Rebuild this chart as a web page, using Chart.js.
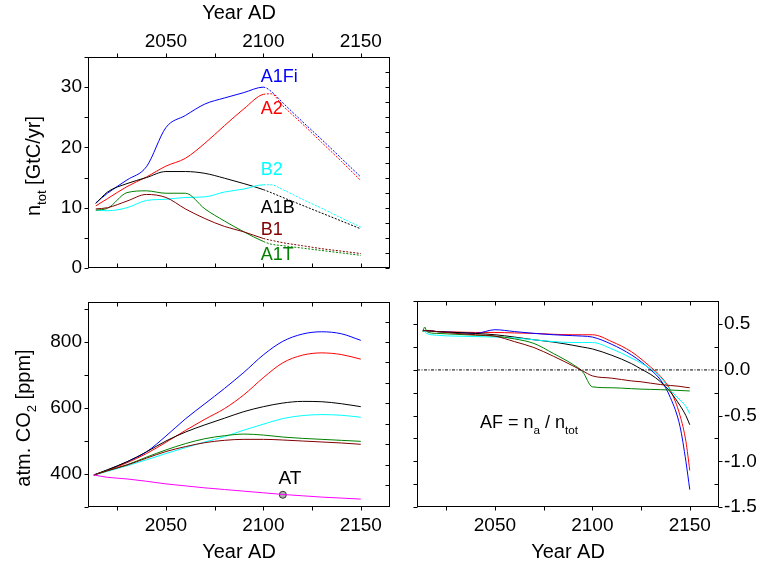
<!DOCTYPE html>
<html>
<head>
<meta charset="utf-8">
<script src="https://cdn.jsdelivr.net/npm/chart.js@4.4.0/dist/chart.umd.min.js"></script>
<style>
  body { margin: 0; background: #fff; }
  #wrap { position: relative; width: 759px; height: 569px; }
  canvas { position: absolute; }
</style>
</head>
<body>
<div id="wrap">
  <canvas id="cEmis" width="400" height="290" style="left:0;top:0"></canvas>
  <canvas id="cCo2" width="400" height="284" style="left:0;top:285px"></canvas>
  <canvas id="cAf" width="379" height="284" style="left:380px;top:285px"></canvas>
</div>
<script>
// emissions n_tot [GtC/yr]
const emisYears = [2014, 2020, 2030, 2040, 2050, 2060, 2070, 2080, 2090, 2100, 2104, 2110, 2120, 2130, 2140, 2150];
const emisA1Fi = [10.8, 12.4, 14.6, 16.8, 23.3, 25.3, 27.2, 28.2, 29.1, 30.0, 29.3, 27.4, 24.3, 21.3, 18.2, 15.1];
const emisA2   = [10.3, 11.5, 13.5, 15.1, 16.9, 18.2, 20.7, 23.6, 26.4, 28.8, 28.9, 26.9, 23.9, 20.8, 17.7, 14.5];
const emisA1B  = [10.7, 12.6, 14.0, 15.0, 16.0, 16.0, 15.7, 14.9, 14.0, 13.0, 12.5, 11.7, 10.4, 9.1, 7.8, 6.5];
const emisB2   = [9.6, 9.5, 10.0, 11.2, 11.4, 11.7, 11.8, 12.6, 13.1, 13.8, 13.8, 13.0, 11.4, 9.9, 8.3, 6.8];
const emisA1T  = [9.6, 9.9, 12.5, 12.8, 12.4, 12.4, 9.8, 7.8, 6.0, 4.4, 3.95, 3.7, 3.3, 2.9, 2.5, 2.1];
const emisB1   = [9.8, 10.0, 11.1, 12.2, 11.7, 9.8, 8.2, 6.9, 6.0, 4.9, 4.6, 4.2, 3.7, 3.2, 2.8, 2.4];

// atm. CO2 [ppm]
const co2Years = [2013, 2020, 2030, 2040, 2050, 2060, 2070, 2080, 2090, 2100, 2110, 2120, 2130, 2140, 2150];
const co2A1Fi = [397, 412, 437, 467, 515, 567, 613, 659, 708, 761, 802, 824, 831, 825, 805];
const co2A2   = [397, 411, 434, 462, 496, 532, 566, 598, 640, 692, 737, 760, 767, 762, 748];
const co2A1B  = [397, 413, 437, 467, 500, 527, 549, 569, 589, 604, 615, 620, 619, 613, 604];
const co2B2   = [397, 408, 425, 443, 462, 480, 497, 513, 533, 551, 568, 577, 580, 578, 572];
const co2A1T  = [397, 410, 428, 451, 473, 492, 507, 516, 521, 518, 512, 508, 505, 502, 499];
const co2B1   = [397, 410, 427, 448, 468, 483, 495, 502, 505, 505, 503, 500, 497, 494, 490];
const co2AT   = [397, 390, 385, 378, 370, 364, 358, 353, 348, 343, 338, 334, 330, 327, 324];
const atMarkYear = 2110;
const atMarkValue = 337;

// airborne fraction AF
const afYears = [2013, 2014, 2015, 2020, 2030, 2040, 2050, 2060, 2070, 2080, 2090, 2095, 2100, 2110, 2120, 2125, 2130, 2135, 2140, 2145, 2148, 2150];
const afA1Fi = [0.43, 0.43, 0.43, 0.42, 0.41, 0.40, 0.44, 0.42, 0.40, 0.385, 0.375, 0.37, 0.36, 0.28, 0.165, 0.09, 0.0, -0.11, -0.30, -0.62, -1.0, -1.31];
const afA2   = [0.43, 0.43, 0.43, 0.42, 0.415, 0.41, 0.41, 0.405, 0.40, 0.39, 0.385, 0.385, 0.385, 0.31, 0.20, 0.12, 0.03, -0.07, -0.22, -0.50, -0.78, -1.10];
const afA1B  = [0.43, 0.43, 0.43, 0.42, 0.41, 0.40, 0.385, 0.36, 0.33, 0.305, 0.27, 0.25, 0.23, 0.16, 0.07, 0.01, -0.05, -0.13, -0.24, -0.39, -0.50, -0.60];
const afB2   = [0.43, 0.42, 0.40, 0.38, 0.37, 0.365, 0.36, 0.35, 0.33, 0.31, 0.30, 0.30, 0.30, 0.23, 0.13, 0.075, 0.01, -0.08, -0.22, -0.33, -0.40, -0.48];
const afA1T  = [0.42, 0.47, 0.42, 0.40, 0.39, 0.38, 0.37, 0.34, 0.29, 0.18, 0.06, -0.02, -0.185, -0.195, -0.205, -0.21, -0.213, -0.216, -0.22, -0.225, -0.228, -0.23];
const afB1   = [0.43, 0.43, 0.43, 0.42, 0.40, 0.385, 0.37, 0.31, 0.245, 0.15, 0.045, -0.01, -0.065, -0.09, -0.12, -0.13, -0.145, -0.16, -0.17, -0.18, -0.19, -0.195];

// tick labels
const yearTicks = [2050, 2100, 2150];
const emisTicks = [0, 10, 20, 30];
const co2Ticks = [400, 600, 800];
const afTicks = [0.5, 0.0, -0.5, -1.0, -1.5];

const FONT = '"Liberation Sans", Arial, sans-serif';
Chart.defaults.font.family = FONT;
Chart.defaults.color = '#000';

const COL = { A1Fi: '#0000ff', A2: '#ff0000', A1B: '#000000', B2: '#00ffff', A1T: '#008000', B1: '#800000', AT: '#ff00ff' };

function pts(xs, ys) {
    return xs.map((x, i) => ({ x: x, y: ys[i] }));
}

function line(xs, ys, color, extra) {
    return Object.assign({
        data: pts(xs, ys),
        borderColor: color,
        borderWidth: 1,
        pointRadius: 0,
        fill: false,
        cubicInterpolationMode: 'monotone'
    }, extra || {});
}

function fixTicks(list) {
    return s => { s.ticks = list.map(v => ({ value: v })); };
}

// text with subscripts, optional rotation
function drawRich(ctx, parts, x, y, size, rotate, align) {
    ctx.save();
    ctx.translate(x, y);
    if (rotate) ctx.rotate(-Math.PI / 2);
    ctx.fillStyle = '#000';
    ctx.textBaseline = 'alphabetic';
    let total = 0;
    parts.forEach(p => {
        ctx.font = (p.sub ? size * 0.65 : size) + 'px ' + FONT;
        total += ctx.measureText(p.t).width;
    });
    let cx = align === 'center' ? -total / 2 : 0;
    parts.forEach(p => {
        const fs = p.sub ? size * 0.65 : size;
        ctx.font = fs + 'px ' + FONT;
        ctx.fillText(p.t, cx, p.sub ? size * 0.3 : 0);
        cx += ctx.measureText(p.t).width;
    });
    ctx.restore();
}

// tick marks for every side of each panel
const marks = {
    cEmis: [
        { scale: 'x', side: 'top', from: 2025, to: 2150, step: 25, dir: 'out' },
        { scale: 'x', side: 'bottom', from: 2025, to: 2150, step: 25, dir: 'in' },
        { scale: 'y', side: 'left', from: 0, to: 35, step: 5, dir: 'out' },
        { scale: 'y', side: 'right', from: 0, to: 35, step: 2.5, dir: 'in' }
    ],
    cCo2: [
        { scale: 'x', side: 'bottom', from: 2025, to: 2150, step: 25, dir: 'out' },
        { scale: 'x', side: 'top', from: 2025, to: 2150, step: 25, dir: 'in' },
        { scale: 'y', side: 'left', from: 300, to: 900, step: 100, dir: 'out' },
        { scale: 'y', side: 'right', from: 304, to: 920, step: 62, dir: 'in' }
    ],
    cAf: [
        { scale: 'x', side: 'bottom', from: 2025, to: 2150, step: 25, dir: 'out' },
        { scale: 'x', side: 'top', from: 2025, to: 2150, step: 25, dir: 'in' },
        { scale: 'y', side: 'left', from: -1.5, to: 0.75, step: 0.25, dir: 'out' },
        { scale: 'y', side: 'right', from: -1.5, to: 0.75, step: 0.25, dir: 'mixed', major: 0.5 }
    ]
};

const frame = {
    id: 'frame',
    afterDraw(chart) {
        const { ctx, chartArea: a } = chart;
        const L = Math.round(a.left) + 0.5, R = Math.round(a.right) - 0.5;
        const T = Math.round(a.top) + 0.5, B = Math.round(a.bottom) - 0.5;
        ctx.save();
        ctx.strokeStyle = '#000';
        ctx.lineWidth = 1;
        ctx.strokeRect(L, T, R - L, B - T);
        (marks[chart.canvas.id] || []).forEach(m => {
            const s = chart.scales[m.scale];
            for (let v = m.from; v <= m.to + 1e-9; v += m.step) {
                const p = Math.round(s.getPixelForValue(v)) + 0.5;
                let d = m.dir === 'out' ? 1 : -1;
                if (m.dir === 'mixed') {
                    d = Math.abs(v / m.major - Math.round(v / m.major)) < 1e-6 ? 1 : -1;
                }
                const len = 4 * d;
                ctx.beginPath();
                if (m.side === 'left') { ctx.moveTo(L, p); ctx.lineTo(L - len, p); }
                if (m.side === 'right') { ctx.moveTo(R, p); ctx.lineTo(R + len, p); }
                if (m.side === 'top') { ctx.moveTo(p, T); ctx.lineTo(p, T - len); }
                if (m.side === 'bottom') { ctx.moveTo(p, B); ctx.lineTo(p, B + len); }
                ctx.stroke();
            }
        });
        ctx.restore();
    }
};

const yearFmt = v => String(v);
const tickFont = { size: 19 };
const titleFont = { size: 20 };

// ---- panel 1: emissions ----
const dotted = { segment: { borderDash: c => c.p0.parsed.x >= 2100 ? [2, 1.5] : undefined } };

new Chart(document.getElementById('cEmis'), {
    type: 'line',
    data: {
        datasets: [
            line(emisYears, emisB1, COL.B1, dotted),
            line(emisYears, emisA1T, COL.A1T, dotted),
            line(emisYears, emisB2, COL.B2, dotted),
            line(emisYears, emisA1B, COL.A1B, dotted),
            line(emisYears, emisA2, COL.A2, dotted),
            line(emisYears, emisA1Fi, COL.A1Fi, dotted)
        ]
    },
    options: {
        responsive: false,
        animation: false,
        devicePixelRatio: 1,
        layout: { padding: { right: 10, bottom: 22 } },
        plugins: { legend: { display: false }, tooltip: { enabled: false } },
        scales: {
            x: {
                type: 'linear', position: 'top', min: 2010, max: 2165,
                grid: { display: false, drawTicks: false }, border: { display: false },
                ticks: { font: tickFont, padding: 4, callback: yearFmt, maxRotation: 0 },
                afterBuildTicks: fixTicks(yearTicks),
                title: { display: true, text: 'Year AD', font: titleFont, padding: { top: 1, bottom: 0 } },
                afterFit: s => { s.height = 57; }
            },
            y: {
                type: 'linear', min: 0, max: 35,
                grid: { display: false, drawTicks: false }, border: { display: false },
                ticks: { font: tickFont, padding: 6 },
                afterBuildTicks: fixTicks(emisTicks),
                afterFit: s => { s.width = 88; }
            }
        }
    },
    plugins: [frame, {
        id: 'emisText',
        afterDraw(chart) {
            const { ctx, scales: { x, y } } = chart;
            const names = [['A1Fi', 31.6], ['A2', 26.4], ['B2', 16.25], ['A1B', 9.93], ['B1', 6.35], ['A1T', 2.1]];
            ctx.save();
            ctx.font = '18px ' + FONT;
            ctx.textBaseline = 'middle';
            ctx.textAlign = 'left';
            names.forEach(([n, v]) => {
                ctx.fillStyle = COL[n];
                ctx.fillText(n, x.getPixelForValue(2098.7), y.getPixelForValue(v));
            });
            ctx.restore();
            drawRich(ctx, [{ t: 'n' }, { t: 'tot', sub: true }, { t: ' [GtC/yr]' }], 40, 166, 20, true, 'center');
        }
    }]
});

// ---- panel 2: atmospheric CO2 ----
new Chart(document.getElementById('cCo2'), {
    type: 'line',
    data: {
        datasets: [
            line(co2Years, co2AT, COL.AT),
            line(co2Years, co2B1, COL.B1),
            line(co2Years, co2A1T, COL.A1T),
            line(co2Years, co2B2, COL.B2),
            line(co2Years, co2A1B, COL.A1B),
            line(co2Years, co2A2, COL.A2),
            line(co2Years, co2A1Fi, COL.A1Fi),
            {
                data: [{ x: atMarkYear, y: atMarkValue }],
                showLine: false,
                pointRadius: 3.5,
                pointStyle: 'circle',
                pointBackgroundColor: '#b0b0b0',
                pointBorderColor: '#333',
                pointBorderWidth: 1
            }
        ]
    },
    options: {
        responsive: false,
        animation: false,
        devicePixelRatio: 1,
        layout: { padding: { right: 10, top: 10 } },
        plugins: { legend: { display: false }, tooltip: { enabled: false } },
        scales: {
            x: {
                type: 'linear', position: 'bottom', min: 2010, max: 2165,
                grid: { display: false, drawTicks: false }, border: { display: false },
                ticks: { font: tickFont, padding: 7, callback: yearFmt, maxRotation: 0 },
                afterBuildTicks: fixTicks(yearTicks),
                title: { display: true, text: 'Year AD', font: titleFont, padding: { top: 0, bottom: 5 } },
                afterFit: s => { s.height = 62; }
            },
            y: {
                type: 'linear', min: 300, max: 920,
                grid: { display: false, drawTicks: false }, border: { display: false },
                ticks: { font: tickFont, padding: 6 },
                afterBuildTicks: fixTicks(co2Ticks),
                afterFit: s => { s.width = 88; }
            }
        }
    },
    plugins: [frame, {
        id: 'co2Text',
        afterDraw(chart) {
            const { ctx, scales: { x, y } } = chart;
            ctx.save();
            ctx.font = '19px ' + FONT;
            ctx.fillStyle = '#000';
            ctx.textAlign = 'center';
            ctx.textBaseline = 'middle';
            ctx.fillText('AT', x.getPixelForValue(2113.6), y.getPixelForValue(386));
            ctx.restore();
            drawRich(ctx, [{ t: 'atm. CO' }, { t: '2', sub: true }, { t: ' [ppm]' }], 29.5, 133, 20, true, 'center');
        }
    }]
});

// ---- panel 3: airborne fraction ----
new Chart(document.getElementById('cAf'), {
    type: 'line',
    data: {
        datasets: [
            line([2010, 2165], [0, 0], '#000', { borderDash: [3, 1.5, 1, 1.5], cubicInterpolationMode: 'default' }),
            line(afYears, afB1, COL.B1),
            line(afYears, afA1T, COL.A1T),
            line(afYears, afB2, COL.B2),
            line(afYears, afA1B, COL.A1B),
            line(afYears, afA1Fi, COL.A1Fi),
            line(afYears, afA2, COL.A2)
        ]
    },
    options: {
        responsive: false,
        animation: false,
        devicePixelRatio: 1,
        layout: { padding: { left: 37, top: 10 } },
        plugins: { legend: { display: false }, tooltip: { enabled: false } },
        scales: {
            x: {
                type: 'linear', position: 'bottom', min: 2010, max: 2165,
                grid: { display: false, drawTicks: false }, border: { display: false },
                ticks: { font: tickFont, padding: 7, callback: yearFmt, maxRotation: 0 },
                afterBuildTicks: fixTicks(yearTicks),
                title: { display: true, text: 'Year AD', font: titleFont, padding: { top: 0, bottom: 5 } },
                afterFit: s => { s.height = 62; }
            },
            y: {
                type: 'linear', position: 'right', min: -1.5, max: 0.75,
                grid: { display: false, drawTicks: false }, border: { display: false },
                ticks: { font: tickFont, padding: 5, callback: v => v.toFixed(1) },
                afterBuildTicks: fixTicks(afTicks),
                afterFit: s => { s.width = 40; }
            }
        }
    },
    plugins: [frame, {
        id: 'afText',
        afterDraw(chart) {
            const { ctx, scales: { x, y } } = chart;
            drawRich(ctx, [{ t: 'AF = n' }, { t: 'a', sub: true }, { t: ' / n' }, { t: 'tot', sub: true }],
                x.getPixelForValue(2042.3), y.getPixelForValue(-0.64), 18, false, 'left');
        }
    }]
});
</script>
</body>
</html>
